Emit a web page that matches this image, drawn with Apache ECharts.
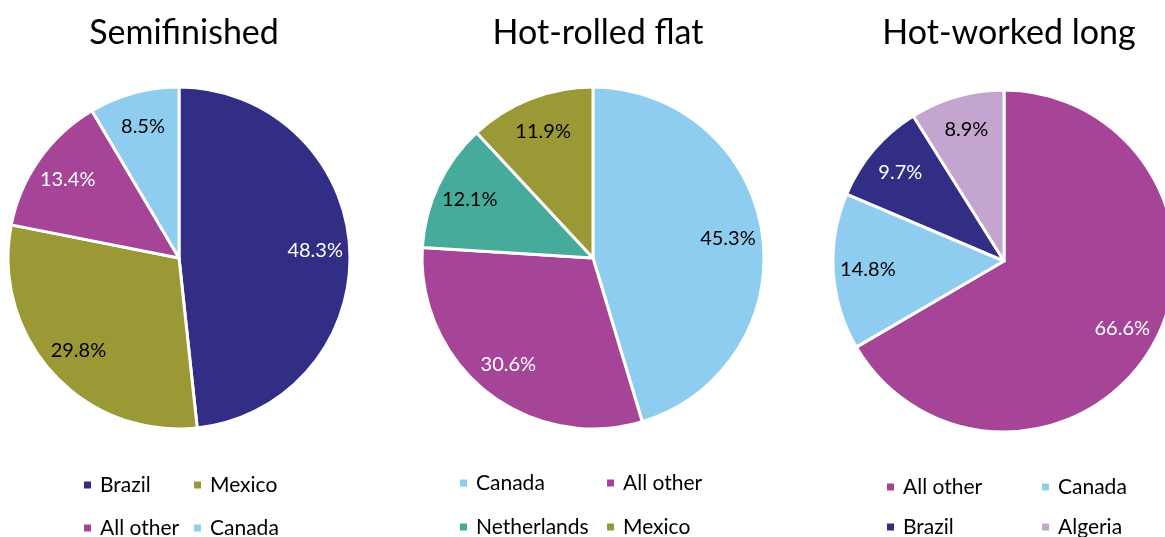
<!DOCTYPE html>
<html>
<head>
<meta charset="utf-8">
<script src="https://cdn.jsdelivr.net/npm/echarts@6/dist/echarts.min.js"></script>
<style>
  html, body { margin: 0; padding: 0; background: #fff; }
  #main { width: 1165px; height: 537px; }
</style>
</head>
<body>
<div id="main"></div>
<script>
// data
var semiNames = ["Brazil", "Mexico", "All other", "Canada"];
var semiValues = [48.3, 29.8, 13.4, 8.5];
var flatNames = ["Canada", "All other", "Netherlands", "Mexico"];
var flatValues = [45.3, 30.6, 12.1, 11.9];
var longNames = ["All other", "Canada", "Brazil", "Algeria"];
var longValues = [66.6, 14.8, 9.7, 8.9];
var titles = ["Semifinished", "Hot-rolled flat", "Hot-worked long"];

var colors = {
  "Brazil": "#332e85",
  "Mexico": "#9a9935",
  "All other": "#a64598",
  "Canada": "#8ecdef",
  "Netherlands": "#46ab9b",
  "Algeria": "#c3a5cf"
};
// slices that get white labels
var darkSlices = ["Brazil", "All other"];

var font = "Lato, 'Open Sans', sans-serif";

var chartDom = document.getElementById("main");
var chart = echarts.init(chartDom);

function pieData(names, values) {
  return names.map(function (n, i) {
    return { name: n, value: values[i], itemStyle: { color: colors[n] } };
  });
}

function labelData(names, values) {
  return names.map(function (n, i) {
    return {
      name: n,
      value: values[i],
      label: { color: darkSlices.indexOf(n) >= 0 ? "#fff" : "#000" }
    };
  });
}

// pie centres and radius
var centers = [[179, 258], [593, 258], [1004, 261]];
var R = 171;
var allNames = [semiNames, flatNames, longNames];
var allValues = [semiValues, flatValues, longValues];

var series = [];
for (var k = 0; k < 3; k++) {
  series.push({
    type: "pie",
    center: centers[k],
    radius: R,
    startAngle: 90,
    clockwise: true,
    silent: true,
    label: { show: false },
    labelLine: { show: false },
    itemStyle: { borderColor: "#fff", borderWidth: 3 },
    data: pieData(allNames[k], allValues[k])
  });
}
// label rings (transparent), so labels sit further out than 'inside' would put them
for (var k = 0; k < 3; k++) {
  series.push({
    type: "pie",
    center: centers[k],
    radius: [R * 0.56, R],
    startAngle: 90,
    clockwise: true,
    silent: true,
    itemStyle: { color: "transparent" },
    label: {
      show: true,
      position: "inside",
      formatter: function (p) { return p.value.toFixed(1) + "%"; },
      fontSize: 20,
      fontFamily: font
    },
    labelLine: { show: false },
    data: labelData(allNames[k], allValues[k])
  });
}

// legend items: [name, marker left, row centre]
var legendItems = [
  ["Brazil", 82, 485], ["Mexico", 192, 485],
  ["All other", 82, 528], ["Canada", 192, 528],
  ["Canada", 458, 483], ["All other", 605, 483],
  ["Netherlands", 458, 527], ["Mexico", 605, 527],
  ["All other", 885, 487], ["Canada", 1040, 487],
  ["Brazil", 885, 527], ["Algeria", 1040, 527]
];
var legends = legendItems.map(function (c) {
  return {
    left: c[1],
    top: c[2] - 11,
    padding: 0,
    icon: "rect",
    itemWidth: 9,
    itemHeight: 9,
    selectedMode: false,
    textStyle: { fontSize: 21, fontFamily: font, color: "#000", lineHeight: 22, padding: [0, 0, 0, 3] },
    data: [c[0]]
  };
});

var option = {
  animation: false,
  title: titles.map(function (t, i) {
    return {
      text: t,
      left: centers[i][0],
      top: 11,
      textAlign: "center",
      textStyle: { fontSize: 34, fontWeight: "normal", color: "#000", fontFamily: font }
    };
  }),
  legend: legends,
  series: series
};

chart.setOption(option);
</script>
</body>
</html>
